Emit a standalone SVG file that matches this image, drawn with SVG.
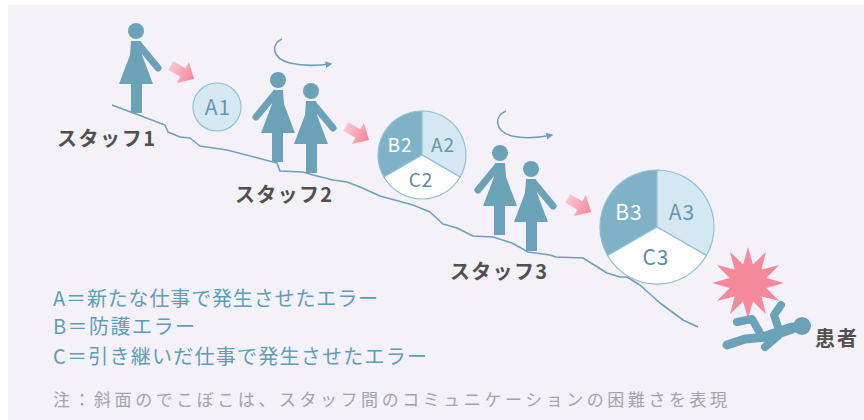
<svg xmlns="http://www.w3.org/2000/svg" xmlns:xlink="http://www.w3.org/1999/xlink" width="864" height="420" viewBox="0 0 864 420">
  <style>
    .fig { fill: #6ca2b8; }
    .arm { stroke: #6ca2b8; stroke-width: 7; stroke-linecap: round; fill: none; }
    .slope { fill: none; stroke: #6ca2b8; stroke-width: 1.6; stroke-linejoin: round; }
    .turn { fill: none; stroke: #6ca2b8; stroke-width: 1.6; }
    .label { font-family: "Noto Sans CJK JP", "Noto Sans", sans-serif; font-weight: bold; font-size: 20px; fill: #505050; }
    .legend { font-family: "Noto Sans CJK JP", "Noto Sans", sans-serif; font-size: 20px; fill: #5e9db6; }
    .note { font-family: "Noto Sans CJK JP", "Noto Sans", sans-serif; font-size: 17px; fill: #a3a3a8; }
    .ctext { font-family: "Noto Sans CJK JP", "Noto Sans", sans-serif; text-anchor: middle; letter-spacing: 1px; }
    .secA { fill: #d3e8f2; stroke: #8fc0d2; stroke-width: 1.2; }
    .secB { fill: #7fb2c7; stroke: #8fc0d2; stroke-width: 1.2; }
    .secC { fill: #ffffff; stroke: #8fc0d2; stroke-width: 1.2; }
    .patient { stroke: #6ca2b8; stroke-linecap: round; stroke-linejoin: round; fill: none; }
  </style>
  <defs>
    <linearGradient id="pinkGrad" x1="0" y1="0" x2="1" y2="0">
      <stop offset="0" stop-color="#fcc6cf"/>
      <stop offset="1" stop-color="#f6869a"/>
    </linearGradient>
    <!-- standing person, head at origin, arm reaching forward (+x) -->
    <g id="person">
      <circle class="fig" cx="0" cy="0" r="8"/>
      <path class="fig" d="M-5,10 L5,10 L6,24 L17,53 L-17,53 L-6,24 Z"/>
      <rect class="fig" x="-5" y="52" width="11" height="30"/>
      <line class="arm" x1="3" y1="14" x2="22" y2="37"/>
    </g>
    <!-- block arrow pointing +x -->
    <path id="blockArrow" d="M-13,-5 L1,-5 L1,-12 L14,0 L1,12 L1,5 L-13,5 Z" fill="url(#pinkGrad)"/>
    <marker id="turnHead" viewBox="0 0 10 10" refX="8" refY="5" markerWidth="7" markerHeight="7" orient="auto" markerUnits="userSpaceOnUse">
      <path d="M0,0 L10,5 L0,10 Z" fill="#6ca2b8"/>
    </marker>
  </defs>

  <!-- page background -->
  <rect x="0" y="0" width="864" height="420" fill="#ffffff"/>
  <rect x="8" y="5" width="856" height="415" fill="#f4f2f8"/>

  <!-- connectors: uneven slope, hand-over arrows, turning arrows -->
  <g id="connectors">
    <polyline class="slope" points="112,105 165,125 168,132 180,137 190,138 200,146 227,150 277,163 280,171 303,172 313,175 333,180 347,182 360,187 380,196 413,205 430,212 443,224 457,228 473,236 493,237 512,243 528,252 550,255 556,257 583,258 607,273 620,277 627,277 640,285 660,303 683,320 698,327"/>
    <use href="#blockArrow" transform="translate(182,72) rotate(30)"/>
    <use href="#blockArrow" transform="translate(357,133) rotate(30)"/>
    <use href="#blockArrow" transform="translate(579,205) rotate(30)"/>
    <path class="turn" d="M282,39 C271,44 271,58 290,63 C302,66 316,66 331,64" marker-end="url(#turnHead)"/>
    <path class="turn" d="M506,111 C494,116 494,131 512,136 C525,139 538,138 552,135" marker-end="url(#turnHead)"/>
  </g>

  <!-- staff 1 -->
  <g id="staff1">
    <use href="#person" transform="translate(136,31)"/>
    <text class="label" x="57" y="146" textLength="98" lengthAdjust="spacing">スタッフ1</text>
  </g>

  <!-- error A1 -->
  <g id="error-a1">
    <circle cx="217" cy="107" r="24" fill="#d4e9f3" stroke="#92c2d3" stroke-width="1.2"/>
    <text class="ctext" x="218" y="115" font-size="21" fill="#6498ae">A1</text>
  </g>

  <!-- staff 2 -->
  <g id="staff2">
    <use href="#person" transform="translate(278,80) scale(-1,1)"/>
    <use href="#person" transform="translate(311,91)"/>
    <text class="label" x="235" y="202" textLength="97" lengthAdjust="spacing">スタッフ2</text>
  </g>

  <!-- errors after staff 2 -->
  <g id="error-2">
    <path class="secB" d="M422,155 L422,111 A44,44 0 0 0 383.9,177 Z"/>
    <path class="secA" d="M422,155 L422,111 A44,44 0 0 1 460.1,177 Z"/>
    <path class="secC" d="M422,155 L383.9,177 A44,44 0 0 0 460.1,177 Z"/>
    <text class="ctext" x="400" y="152" font-size="19" fill="#ffffff">B2</text>
    <text class="ctext" x="443" y="152" font-size="19" fill="#6498ae">A2</text>
    <text class="ctext" x="421" y="187" font-size="19" fill="#5a8ea5">C2</text>
  </g>

  <!-- staff 3 -->
  <g id="staff3">
    <use href="#person" transform="translate(500,153) scale(-1,1)"/>
    <use href="#person" transform="translate(531,169)"/>
    <text class="label" x="450" y="279" textLength="97" lengthAdjust="spacing">スタッフ3</text>
  </g>

  <!-- errors after staff 3 -->
  <g id="error-3">
    <path class="secB" d="M657,227 L657,170 A57,57 0 0 0 607.6,255.5 Z"/>
    <path class="secA" d="M657,227 L657,170 A57,57 0 0 1 706.4,255.5 Z"/>
    <path class="secC" d="M657,227 L607.6,255.5 A57,57 0 0 0 706.4,255.5 Z"/>
    <text class="ctext" x="629" y="220" font-size="21" fill="#ffffff">B3</text>
    <text class="ctext" x="682" y="220" font-size="21" fill="#6498ae">A3</text>
    <text class="ctext" x="656" y="265" font-size="21" fill="#5a8ea5">C3</text>
  </g>

  <!-- impact burst -->
  <g id="impact">
    <polygon fill="#f5899c" points="748,247 752.9,264.6 766,251.8 761.4,269.6 779.2,265 766.4,278.1 784,283 766.4,287.9 779.2,301 761.4,296.4 766,314.2 752.9,301.4 748,319 743.1,301.4 730,314.2 734.6,296.4 716.8,301 729.6,287.9 712,283 729.6,278.1 716.8,265 734.6,269.6 730,251.8 743.1,264.6"/>
  </g>

  <!-- fallen patient -->
  <g id="patient">
    <circle class="fig" cx="802" cy="326" r="9"/>
    <line class="patient" x1="792" y1="328" x2="766" y2="337" stroke-width="11"/>
    <polyline class="patient" points="768,337 745,339 727,345" stroke-width="9"/>
    <polyline class="patient" points="760,333 752,319 737,322" stroke-width="8"/>
    <polyline class="patient" points="778,327 774,315 781,305" stroke-width="8"/>
    <line class="patient" x1="778" y1="336" x2="765" y2="347" stroke-width="8"/>
    <text class="label" x="815" y="346" font-size="19" textLength="42" lengthAdjust="spacing">患者</text>
  </g>

  <!-- legend -->
  <g id="legend">
    <text class="legend" x="53" y="306" textLength="325" lengthAdjust="spacing">A＝新たな仕事で発生させたエラー</text>
    <text class="legend" x="53" y="334" textLength="142" lengthAdjust="spacing">B＝防護エラー</text>
    <text class="legend" x="53" y="364" textLength="374" lengthAdjust="spacing">C＝引き継いだ仕事で発生させたエラー</text>
  </g>

  <!-- note -->
  <g id="note">
    <text class="note" x="53" y="406" textLength="674" lengthAdjust="spacing">注：斜面のでこぼこは、スタッフ間のコミュニケーションの困難さを表現</text>
  </g>
</svg>
